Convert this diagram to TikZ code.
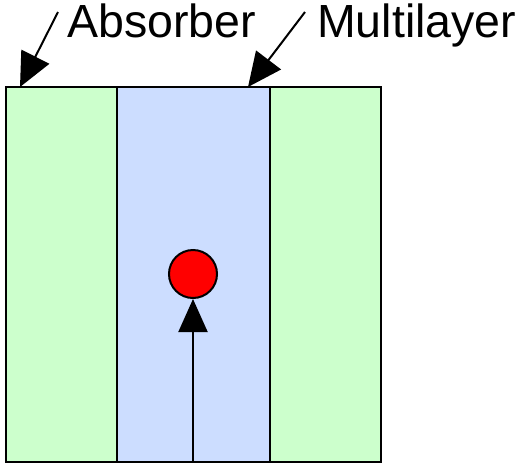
\documentclass[tikz,border=0pt]{standalone}
\usepackage{fontspec}
\setmainfont{Liberation Sans}
\usetikzlibrary{arrows.meta}
\definecolor{AbsGreen}{HTML}{CCFFCC}
\definecolor{LayerBlue}{HTML}{CCDDFF}
\definecolor{SpotRed}{HTML}{FF0000}

\begin{document}
\begin{tikzpicture}[
  x=1pt, y=-1pt,
  line join=miter,
  layer/.style={draw=black, line width=2pt, inner sep=0pt, outer sep=0pt},
  label text/.style={inner sep=0pt, anchor=base west, font=\fontsize{46.5}{50}\selectfont},
  pointer/.style={line width=2pt, -{Triangle[length=34pt, width=31pt]}}
]

% Bounding box of the whole picture
\useasboundingbox (0,0) rectangle (528,464);

% === Layers ===
\filldraw[layer, fill=AbsGreen] (6,87) rectangle (381,462);
\filldraw[layer, fill=LayerBlue] (117,87) rectangle (270,462);
\coordinate (absTip) at (20,87);
\coordinate (mlTip) at (248,87);
\coordinate (bottom) at (193,462);

% === Source point ===
\node[circle, draw=black, line width=2pt, fill=SpotRed, minimum size=48pt, inner sep=0pt] (spot) at (193,274) {};

% Arrow pointing up to the spot
\draw[line width=2pt, -{Triangle[length=33pt, width=29pt]}] (bottom) -- (spot.south);

% === Labels ===
\node[label text] (absorber) at (67,37) {Absorber};
\node[label text] (multilayer) at (317,37) {Multilayer};
\coordinate (absStart) at (58,12);
\coordinate (mlStart) at (305,12);
\draw[pointer] (absStart) -- (absTip);
\draw[pointer] (mlStart) -- (mlTip);

\end{tikzpicture}
\end{document}
